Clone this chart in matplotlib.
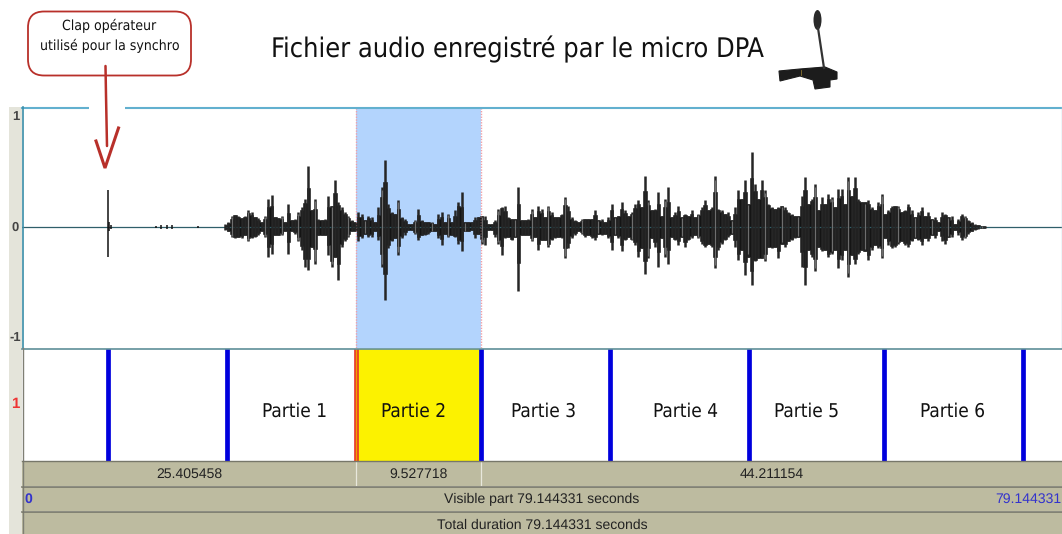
import numpy as np
import matplotlib
matplotlib.use('Agg')
import matplotlib.pyplot as plt
from matplotlib.patches import FancyBboxPatch, Rectangle, Polygon, Ellipse

plt.rcParams['text.hinting'] = 'no_hinting'
plt.rcParams['text.hinting_factor'] = 1

W, H = 1062, 534
total = 79.144331

# waveform peaks, amplitude in hundredths, one value every 0.2537 s from 15.45 s
wave_up = [3,4,10,11,10,8,10,15,13,9,8,4,10,25,29,9,8,10,4,21,6,7,13,18,25,55,15,25,7,6,7,28,19,42,22,18,13,10,6,4,13,12,6,10,9,4,18,36,60,21,13,12,24,9,7,3,3,6,16,6,
           4,4,4,3,12,13,4,12,4,15,22,31,4,4,4,9,9,10,10,3,3,6,16,18,19,9,7,7,36,6,6,7,16,9,19,16,9,19,13,9,9,12,27,19,9,6,4,7,7,7,7,15,6,7,4,9,21,9,
           10,22,15,10,13,21,24,18,46,24,15,16,31,10,25,36,9,13,19,9,12,10,15,9,12,18,24,15,18,46,16,15,12,13,6,18,33,25,42,21,67,39,25,42,33,21,18,16,18,19,18,13,12,10,10,28,45,21,25,
           39,15,27,21,30,27,18,34,34,21,45,28,45,25,22,22,24,18,15,22,30,12,15,19,19,19,13,15,21,15,9,13,18,10,13,7,9,4,13,12,9,10,3,7,12,10,6,4,2.5,1.5,1.2,1]
wave_low = [3,4,9,10,9,10,7,13,10,9,7,4,9,27,24,7,7,7,4,24,4,6,13,21,36,39,18,33,7,7,7,25,36,27,48,18,13,9,4,4,13,10,6,9,9,4,12,36,66,19,13,10,25,10,7,3,3,6,12,7,
            7,6,4,4,10,16,6,9,7,9,15,22,4,4,3,10,6,15,16,3,3,9,15,25,10,9,12,9,58,7,7,7,13,9,21,12,12,18,12,10,9,10,28,19,10,7,4,6,9,7,10,12,6,7,6,10,21,7,
            10,22,12,9,12,16,27,19,42,28,10,18,36,10,27,33,9,12,16,9,18,12,10,7,10,15,18,15,18,37,21,15,12,9,6,18,30,21,43,27,52,31,28,28,31,18,19,18,28,15,18,13,12,10,9,36,52,21,27,
            40,18,22,21,27,24,21,37,30,21,45,25,33,24,21,22,30,21,16,19,28,10,16,19,18,15,13,16,18,13,10,12,16,10,13,7,10,4,13,15,9,9,3,7,12,10,6,4,2.5,1.5,1.2,1]
wave_start = 15.45
wave_step = 0.2537

# clap and the small noises before the speech
clap_t = [6.55, 6.65, 6.75, 10.2, 10.6, 11.0, 11.4, 13.4]
clap_up = [33, 4, 2, 0.8, 1.5, 1.5, 1.8, 0.8]
clap_low = [27, 4, 2, 0.8, 1.5, 1.5, 1.8, 0.8]

sel_start = 25.405458
sel_end = 34.933176
bounds = [6.55, 15.6, 34.93, 44.75, 55.3, 65.6, 76.2]

parts = ['Partie 1', 'Partie 2', 'Partie 3', 'Partie 4', 'Partie 5', 'Partie 6']
part_t = [20.72, 29.77, 39.67, 50.47, 59.68, 70.79]

durations = ['25.405458', '9.527718', '44.211154']
dur_edges = [0, sel_start, sel_end, total]
y_ticks = [1, 0, -1]

row_col = '#bdbba0'
fig = plt.figure(figsize=(W / 100, H / 100), dpi=100, facecolor='white')


def axes_px(x0, y0, x1, y1):
    ax = fig.add_axes([x0 / W, 1 - y1 / H, (x1 - x0) / W, (y1 - y0) / H])
    ax.set_xticks([])
    ax.set_yticks([])
    for s in ax.spines.values():
        s.set_visible(False)
    return ax


# page overlay in pixels, behind the panels
back = axes_px(0, 0, W, H)
back.set_xlim(0, W)
back.set_ylim(H, 0)
back.add_patch(Rectangle((9, 107), 13, H - 107, color='#e4e4da', lw=0))

# waveform
ax = axes_px(22, 108, W, 348)
ax.set_xlim(0, total)
ax.set_ylim(-1.09, 1.07)
ax.axvspan(sel_start, sel_end, color='#b3d4fd', lw=0)
ax.axvline(sel_start, color='#f0a0a8', lw=1, ls=(0, (1, 1)))
ax.axvline(sel_end, color='#f0a0a8', lw=1, ls=(0, (1, 1)))
ax.axhline(0, color='#2f5f6a', lw=0.9)
up = np.array(wave_up) / 100
low = np.array(wave_low) / 100
wave_t = wave_start + wave_step * np.arange(len(up))
# solid body sits halfway between a peak and its lower neighbour, the rest stays as spikes
body_up = (up + np.minimum(up, np.minimum(np.roll(up, 1), np.roll(up, -1)))) / 2
body_low = (low + np.minimum(low, np.minimum(np.roll(low, 1), np.roll(low, -1)))) / 2
ax.fill_between(wave_t, -body_low, body_up, color='#141414', lw=0.4, step='mid')
ax.vlines(wave_t, -low, up, color='#262626', lw=1.8)
ax.vlines(wave_t[2::5], -low[2::5] * 0.92, up[2::5] * 0.92, color='#6e6e6e', lw=0.8)
ax.vlines(clap_t, -np.array(clap_low) / 100, np.array(clap_up) / 100, color='#111111', lw=1.1)

# tier
tier = axes_px(22, 349, W, 461)
tier.set_xlim(0, total)
tier.set_ylim(0, 1)
tier.axvspan(sel_start, sel_end, color='#fcf200', lw=0)
for t in bounds:
    tier.axvline(t, color='#0000dd', lw=3.4)
tier.axvline(sel_start, color='#e8382c', lw=3.4)
tier.axvline(sel_start, color='#f0a000', lw=1.0)
for name, t in zip(parts, part_t):
    tier.text(t, 0.445, name, ha='center', va='center', fontsize=13.5,
              family='DejaVu Sans', stretch='condensed', color='#111111')

# duration rows
row1 = axes_px(22, 461, W, 486)
row2 = axes_px(22, 487, W, 511)
row3 = axes_px(22, 512, W, H)
for r in (row1, row2, row3):
    r.set_xlim(0, total)
    r.set_ylim(0, 1)
    r.set_facecolor(row_col)
for i, d in enumerate(durations):
    row1.text((dur_edges[i] + dur_edges[i + 1]) / 2, 0.46, d, ha='center', va='center',
              fontsize=9.8, family='Liberation Sans', color='#222222')
row1.axvline(sel_start, color='#e8e8dc', lw=0.9)
row1.axvline(sel_end, color='#e8e8dc', lw=0.9)
row2.text(0.2, 0.5, '0', ha='left', va='center', fontsize=9.8, fontweight='bold',
          family='Liberation Sans', color='#3333cc')
row2.text(total - 0.05, 0.5, f'{total:.6f}', ha='right', va='center', fontsize=9.8,
          family='Liberation Sans', color='#3333cc')
row2.text(total / 2, 0.5, f'Visible part {total:.6f} seconds', ha='center', va='center',
          fontsize=9.8, family='Liberation Sans', color='#222222')
row3.text(total / 2, 0.42, f'Total duration {total:.6f} seconds', ha='center', va='center',
          fontsize=9.8, family='Liberation Sans', color='#222222')

# drawn annotations, page pixels on top of everything
top = axes_px(0, 0, W, H)
top.patch.set_alpha(0)
top.set_xlim(0, W)
top.set_ylim(H, 0)
top.plot([22, W], [107.5, 107.5], color='#62b0cf', lw=1.5)
top.plot([22.5, 22.5], [107, 348], color='#3a8ea8', lw=1.2)
top.plot([1061.5, 1061.5], [107, 348], color='#a5d8ea', lw=1)
top.plot([22, W], [348.5, 348.5], color='#5f8f98', lw=1.2)
top.plot([22.5, 22.5], [348, H], color='#7f7f74', lw=1)
top.plot([22, W], [461, 461], color='#77776a', lw=1)
top.plot([22, W], [486.5, 486.5], color='#77776a', lw=1.2)
top.plot([22, W], [511.5, 511.5], color='#77776a', lw=1.2)
top.add_patch(Rectangle((89, 105), 36, 5, color='white', lw=0, zorder=3))

for val, y in zip(y_ticks, [116.5, 228, 338]):
    top.text(15.5, y, str(val), ha='center', va='center', fontsize=9, fontweight='bold',
             family='Liberation Sans', color='#444444')
top.text(15, 404, '1', ha='center', va='center', fontsize=11, fontweight='bold',
         family='Liberation Sans', color='#ee3333')

top.text(517, 49, 'Fichier audio enregistré par le micro DPA', ha='center', va='center',
         fontsize=19.2, family='DejaVu Sans', stretch='condensed', color='#111111')

red = '#b8302a'
top.add_patch(FancyBboxPatch((28, 11.5), 163, 64, boxstyle='round,pad=0,rounding_size=16',
                             fc='white', ec=red, lw=1.3, zorder=4))
top.text(109.5, 26, 'Clap opérateur', ha='center', va='center', fontsize=10.4,
         family='DejaVu Sans', stretch='condensed', color='#111111', zorder=5)
top.text(109.5, 46, 'utilisé pour la synchro', ha='center', va='center', fontsize=10.4,
         family='DejaVu Sans', stretch='condensed', color='#111111', zorder=5)
top.plot([105.5, 106, 107], [66, 95, 146], color=red, lw=1.8, zorder=6, solid_capstyle='round')
top.plot([96, 105, 118.5], [141, 168, 128], color=red, lw=2.2, zorder=6, solid_joinstyle='miter')

mic = '#1c1c1c'
top.add_patch(Ellipse((817.5, 20), 8, 20, color='#2a2a2a', lw=0))
top.plot([818, 824], [28, 68], color='#333333', lw=1.6)
top.add_patch(Polygon([(779, 71), (800, 69), (825, 67), (837, 72), (837, 79), (830, 80), (830, 87),
                       (815, 89), (813, 80), (800, 76), (780, 81)], closed=True, fc=mic, ec=mic, lw=0.8))
top.plot([801, 801], [70, 75], color='#8a7430', lw=0.6)

fig.savefig('out.png', dpi=100)
